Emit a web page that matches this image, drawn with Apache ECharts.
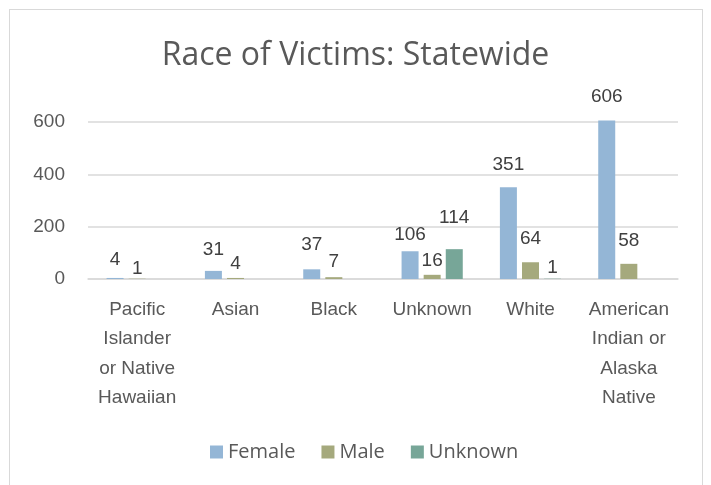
<!DOCTYPE html>
<html>
<head>
<meta charset="utf-8">
<script src="https://cdn.jsdelivr.net/npm/echarts@6/dist/echarts.min.js"></script>
<style>
  html, body { margin: 0; padding: 0; background: #fff; }
  #frame { position: absolute; left: 9px; top: 9px; width: 694px; height: 490px; border: 1px solid #d9d9d9; box-sizing: border-box; }
  #chart { position: absolute; left: 0; top: 0; width: 711px; height: 485px; }
</style>
</head>
<body>
<div id="frame"></div>
<div id="chart"></div>
<script>
const categories = ['Pacific\nIslander\nor Native\nHawaiian', 'Asian', 'Black', 'Unknown', 'White', 'American\nIndian or\nAlaska\nNative'];
const femaleValues = [4, 31, 37, 106, 351, 606];
const maleValues = [1, 4, 7, 16, 64, 58];
const unknownValues = [null, null, null, 114, 1, null];
const yTicks = [0, 200, 400, 600];

// how far each data label sits above its bar (Excel staggered them)
const femaleLift = [9, 12, 15, 7, 13, 14];
const maleLift = [0, 5, 6, 5, 14, 14];
const unknownLift = [0, 0, 0, 22, 1, 0];

const textColor = '#595959';
const labelFont = '"Liberation Sans", Arial, sans-serif';
const titleFont = '"Open Sans", sans-serif';

function makeSeries(name, values, lift, color) {
  return {
    name: name,
    type: 'bar',
    data: values.map((v, i) => ({ value: v, label: { distance: lift[i] } })),
    barWidth: 17,
    barGap: '30%',
    clip: false,
    itemStyle: { color: color },
    label: {
      show: true,
      position: 'top',
      color: '#404040',
      fontSize: 19,
      fontFamily: labelFont
    }
  };
}

const chart = echarts.init(document.getElementById('chart'));
chart.setOption({
  animation: false,
  title: {
    text: 'Race of Victims: Statewide',
    left: 'center',
    top: 35,
    textStyle: { color: textColor, fontSize: 32, fontWeight: 'normal', fontFamily: titleFont }
  },
  legend: {
    top: 437,
    left: 205,
    itemWidth: 13,
    itemHeight: 13,
    itemGap: 26,
    icon: 'rect',
    textStyle: { color: textColor, fontSize: 20, fontFamily: titleFont }
  },
  grid: { left: 88, right: 33, top: 122, height: 157, containLabel: false },
  xAxis: {
    type: 'category',
    data: categories,
    axisLine: { lineStyle: { color: '#d9d9d9', width: 1.5 } },
    axisTick: { show: false },
    axisLabel: { color: textColor, fontSize: 19, fontFamily: labelFont, lineHeight: 29.5, margin: 16, interval: 0 }
  },
  yAxis: {
    type: 'value',
    min: yTicks[0],
    max: yTicks[yTicks.length - 1],
    interval: 200,
    axisLine: { show: false },
    axisTick: { show: false },
    splitLine: { lineStyle: { color: '#d9d9d9', width: 1.5 } },
    axisLabel: { color: textColor, fontSize: 19, fontFamily: labelFont, margin: 23 }
  },
  series: [
    makeSeries('Female', femaleValues, femaleLift, '#94b6d6'),
    makeSeries('Male', maleValues, maleLift, '#a5a97d'),
    makeSeries('Unknown', unknownValues, unknownLift, '#77a698')
  ]
});
</script>
</body>
</html>
